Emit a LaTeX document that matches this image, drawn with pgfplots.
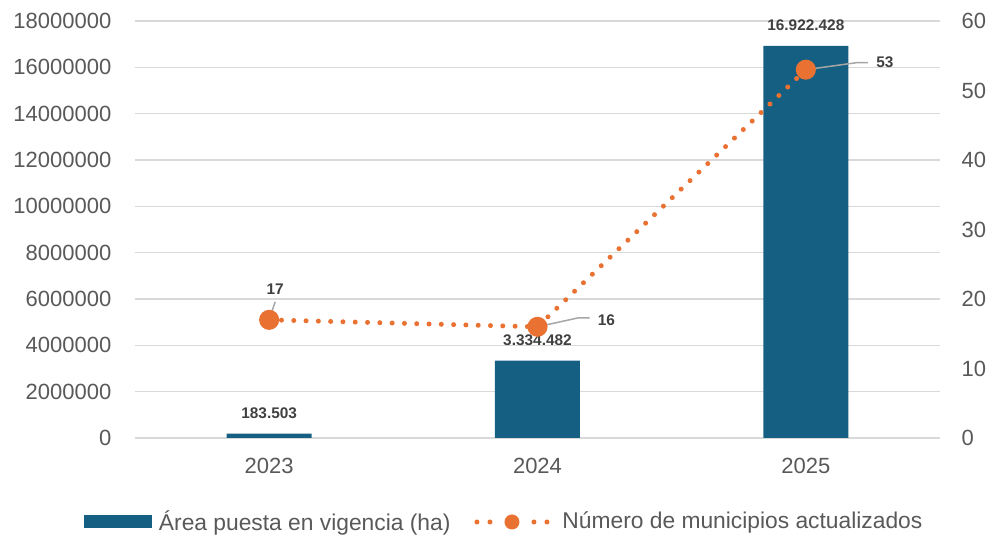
\documentclass[border=0pt]{standalone}
\usepackage{fontspec}
\setmainfont{Liberation Sans}
\usepackage{pgfplots}
\usepackage{pgfplotstable}
\pgfplotsset{compat=1.18}
\definecolor{barc}{HTML}{156082}
\definecolor{orangec}{HTML}{E97132}
\definecolor{gridc}{HTML}{D9D9D9}
\definecolor{tickc}{HTML}{595959}
\definecolor{labc}{HTML}{404040}
\definecolor{leadc}{HTML}{A6A6A6}

\pgfplotstableread{
x y lab
0 183503 183.503
1 3334482 3.334.482
2 16922428 16.922.428
}\areadata

\pgfplotstableread{
x y
0 17
1 16
2 53
}\mundata

\begin{document}
\begin{tikzpicture}
\useasboundingbox (-67.5pt,-48.5pt) rectangle (431pt,219pt);
\begin{axis}[
  at={(0,0)}, anchor=south west,
  scale only axis, width=402.5pt, height=208.5pt,
  xmin=-0.5, xmax=2.5, ymin=0, ymax=18000000,
  xtick={0,1,2}, xticklabels={2023,2024,2025},
  ytick distance=2000000,
  scaled y ticks=false,
  /pgf/number format/assume math mode=true,
  yticklabel style={/pgf/number format/fixed, /pgf/number format/1000 sep={}, xshift=-8.3pt},
  xticklabel style={yshift=-6.3pt},
  tick label style={font=\fontsize{11}{13}\selectfont, text=tickc},
  major tick length=0pt,
  axis line style={draw=none},
  ymajorgrids, grid style={gridc, line width=0.75pt},
  clip=false,
]
\addplot[ybar, bar width=42.5pt, fill=barc, draw=none,
  point meta=explicit symbolic,
  nodes near coords,
  every node near coord/.append style={anchor=center, yshift=10.5pt, font=\bfseries\fontsize{7.7}{9}\selectfont, text=labc}]
  table[x=x, y=y, meta=lab] {\areadata};
\end{axis}
\begin{axis}[
  at={(0,0)}, anchor=south west,
  scale only axis, width=402.5pt, height=208.5pt,
  xmin=-0.5, xmax=2.5, ymin=0, ymax=60,
  ytick distance=10,
  xtick=\empty,
  yticklabel pos=right,
  /pgf/number format/assume math mode=true,
  yticklabel style={xshift=7.3pt},
  tick label style={font=\fontsize{11}{13}\selectfont, text=tickc},
  major tick length=0pt,
  axis line style={draw=none},
  clip=false,
  legend style={at={(0.4596,-0.2014)}, anchor=center, draw=none, fill=none,
    font=\fontsize{11.4}{13}\selectfont, text=tickc,
    legend columns=-1,
    /tikz/every even column/.append style={column sep=10pt}},
]
\addlegendimage{legend image code/.code={\fill[barc, draw=none] (0pt,-3.25pt) rectangle (34pt,3.25pt); \path (35.5pt,0pt);}}
\addlegendentry{Área puesta en vigencia (ha)}
\addplot[sharp plot, color=orangec, line width=2.5pt, line cap=round,
  dash pattern=on 0pt off 6.15pt,
  mark=*, mark size=3.75pt, mark options={solid, fill=orangec, draw=none},
  legend image code/.code={
    \fill[orangec, draw=none, solid] (2pt,0) circle (1.25pt);
    \fill[orangec, draw=none, solid] (8.5pt,0) circle (1.25pt);
    \fill[orangec, draw=none, solid] (19.5pt,0) circle (3.75pt);
    \fill[orangec, draw=none, solid] (30.5pt,0) circle (1.25pt);
    \fill[orangec, draw=none, solid] (37pt,0) circle (1.25pt);
    \path (41.5pt,0pt);
  }]
  table[x=x, y=y] {\mundata};
\addlegendentry{Número de municipios actualizados}
\draw[leadc, line width=0.75pt] (axis cs:0,17) -- ++(3pt,9pt);
\node[font=\bfseries\fontsize{7.7}{9}\selectfont, text=labc] at ([shift={(3pt,15.5pt)}]axis cs:0,17) {17};
\draw[leadc, line width=0.75pt] (axis cs:1,16) -- ++(20.5pt,4.5pt) -- ++(5.5pt,0pt);
\node[font=\bfseries\fontsize{7.7}{9}\selectfont, text=labc] at ([shift={(34.5pt,3.5pt)}]axis cs:1,16) {16};
\draw[leadc, line width=0.75pt] (axis cs:2,53) -- ++(25.5pt,3.5pt) -- ++(5.5pt,0pt);
\node[font=\bfseries\fontsize{7.7}{9}\selectfont, text=labc] at ([shift={(39.5pt,3.5pt)}]axis cs:2,53) {53};
\end{axis}
\end{tikzpicture}
\end{document}
